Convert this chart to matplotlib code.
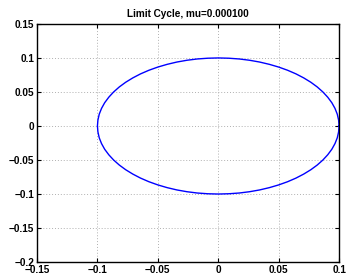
import matplotlib
matplotlib.use("Agg")
import matplotlib.pyplot as plt

# Limit cycle trajectory points (radius ~0.1 loop), every 5 degrees
x_vals = [0.1000, 0.0996, 0.0985, 0.0966, 0.0940, 0.0906, 0.0866, 0.0819, 0.0766, 0.0707,
          0.0643, 0.0574, 0.0500, 0.0423, 0.0342, 0.0259, 0.0174, 0.0087, 0.0000,
          -0.0087, -0.0174, -0.0259, -0.0342, -0.0423, -0.0500, -0.0574, -0.0643, -0.0707,
          -0.0766, -0.0819, -0.0866, -0.0906, -0.0940, -0.0966, -0.0985, -0.0996, -0.1000,
          -0.0996, -0.0985, -0.0966, -0.0940, -0.0906, -0.0866, -0.0819, -0.0766, -0.0707,
          -0.0643, -0.0574, -0.0500, -0.0423, -0.0342, -0.0259, -0.0174, -0.0087, 0.0000,
          0.0087, 0.0174, 0.0259, 0.0342, 0.0423, 0.0500, 0.0574, 0.0643, 0.0707,
          0.0766, 0.0819, 0.0866, 0.0906, 0.0940, 0.0966, 0.0985, 0.0996, 0.1000]
y_vals = [0.0000, 0.0087, 0.0174, 0.0259, 0.0342, 0.0423, 0.0500, 0.0574, 0.0643, 0.0707,
          0.0766, 0.0819, 0.0866, 0.0906, 0.0940, 0.0966, 0.0985, 0.0996, 0.1000,
          0.0996, 0.0985, 0.0966, 0.0940, 0.0906, 0.0866, 0.0819, 0.0766, 0.0707,
          0.0643, 0.0574, 0.0500, 0.0423, 0.0342, 0.0259, 0.0174, 0.0087, 0.0000,
          -0.0087, -0.0174, -0.0259, -0.0342, -0.0423, -0.0500, -0.0574, -0.0643, -0.0707,
          -0.0766, -0.0819, -0.0866, -0.0906, -0.0940, -0.0966, -0.0985, -0.0996, -0.1000,
          -0.0996, -0.0985, -0.0966, -0.0940, -0.0906, -0.0866, -0.0819, -0.0766, -0.0707,
          -0.0643, -0.0574, -0.0500, -0.0423, -0.0342, -0.0259, -0.0174, -0.0087, 0.0000]

x_ticks = [-0.15, -0.1, -0.05, 0, 0.05, 0.1]
x_tick_labels = ["\u22120.15", "\u22120.1", "\u22120.05", "0", "0.05", "0.1"]
y_ticks = [-0.2, -0.15, -0.1, -0.05, 0, 0.05, 0.1, 0.15]
y_tick_labels = ["\u22120.2", "\u22120.15", "\u22120.1", "\u22120.05", "0", "0.05", "0.1", "0.15"]
title = "Limit Cycle, mu=0.000100"

plt.rcParams['font.family'] = ['Liberation Sans', 'DejaVu Sans']
fig = plt.figure(figsize=(3.46, 2.75), dpi=100)
ax = fig.add_axes([0.107, 0.047, 0.873, 0.866])
ax.plot(x_vals, y_vals, color=(0, 0, 1), linewidth=1.0, solid_joinstyle='round')
ax.set_xlim(-0.15, 0.1)
ax.set_ylim(-0.2, 0.15)
ax.set_xticks(x_ticks)
ax.set_xticklabels(x_tick_labels)
ax.set_yticks(y_ticks)
ax.set_yticklabels(y_tick_labels)
ax.tick_params(direction='in', top=True, right=True, length=3, width=0.8,
               labelsize=7.2, pad=2)
for lab in ax.get_xticklabels() + ax.get_yticklabels():
    lab.set_fontweight('bold')
ax.grid(True, linestyle=(0, (1, 2)), color='#b0b0b0', linewidth=0.7)
for s in ax.spines.values():
    s.set_linewidth(1.0)
ax.set_title(title, fontsize=7.2, fontweight='bold', pad=5)
fig.savefig("out.png", dpi=100)
